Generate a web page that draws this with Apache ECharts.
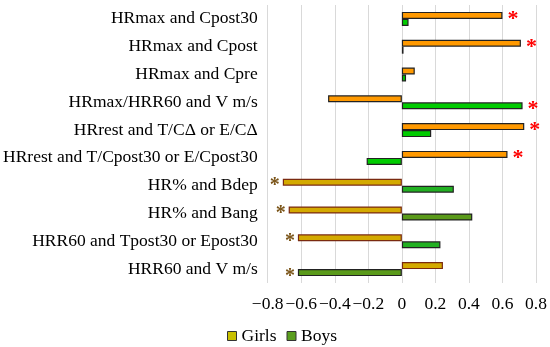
<!DOCTYPE html>
<html>
<head>
<meta charset="utf-8">
<script src="https://cdn.jsdelivr.net/npm/echarts@6/dist/echarts.min.js"></script>
<style>html,body{margin:0;padding:0;background:#fff}#c{width:550px;height:347px}</style>
</head>
<body>
<div id="c"></div>
<script>
const categories = [
  "HRmax and Cpost30",
  "HRmax and Cpost",
  "HRmax and Cpre",
  "HRmax/HRR60 and V m/s",
  "HRrest and T/C\u0394 or E/C\u0394",
  "HRrest and T/Cpost30 or E/Cpost30",
  "HR% and Bdep",
  "HR% and Bang",
  "HRR60 and Tpost30 or Epost30",
  "HRR60 and V m/s"
];
const girls = [0.60, 0.71, 0.077, -0.44, 0.73, 0.63, -0.71, -0.675, -0.62, 0.245];
const boys  = [0.04, 0.01, 0.025, 0.72, 0.175, -0.21, 0.31, 0.42, 0.23, -0.62];
const girlsSig = [true, true, false, false, true, true, true, true, true, false];
const boysSig  = [false, false, false, true, false, false, false, false, false, true];
const tickValues = [-0.8, -0.6, -0.4, -0.2, 0, 0.2, 0.4, 0.6, 0.8];

const FONT = "Liberation Serif";
const girlsTop = "#FF9900", boysTop = "#00CC00";
const girlsBot = "#D4AA00", boysBot = ["#22B022", "#5A9A1A", "#22B022", "#5A9A1A"];

function items(vals, sig, isGirls) {
  return vals.map((v, i) => {
    const bottom = i >= 6;
    const color = isGirls ? (bottom ? girlsBot : girlsTop) : (bottom ? boysBot[i - 6] : boysTop);
    const starColor = bottom ? "#7A5418" : "#FF0000";
    return {
      value: v,
      itemStyle: {
        color: color,
        borderColor: (isGirls && bottom) ? "#7A2A10" : "#222",
        borderWidth: 1.2
      },
      label: {
        show: sig[i],
        position: v >= 0 ? "right" : "left",
        formatter: "*",
        color: starColor,
        fontSize: bottom ? 20 : 22,
        fontFamily: FONT,
        fontWeight: "bold",
        distance: bottom ? 3 : 5,
        offset: [0, 4]
      }
    };
  });
}

const chart = echarts.init(document.getElementById("c"), null, {renderer: "canvas"});
chart.setOption({
  animation: false,
  grid: {left: 266, right: 14, top: 5, bottom: 64, containLabel: false},
  legend: {
    bottom: -3, left: 222,
    itemWidth: 9, itemHeight: 9, itemGap: 10,
    icon: "rect",
    textStyle: {fontFamily: FONT, fontSize: 17.5, color: "#000"},
    data: [
      {name: "Girls", itemStyle: {color: "#C8C000", borderColor: "#333", borderWidth: 1}},
      {name: "Boys", itemStyle: {color: "#5A9E1E", borderColor: "#333", borderWidth: 1}}
    ]
  },
  xAxis: {
    type: "value", min: -0.8, max: 0.8, interval: 0.2,
    axisLine: {show: false}, axisTick: {show: false},
    splitLine: {show: true, lineStyle: {color: "#D9D9D9", width: 1}},
    axisLabel: {
      fontFamily: FONT, fontSize: 17.5, color: "#000", margin: 12,
      formatter: v => {
        const r = Math.round(v * 10) / 10;
        const t = tickValues.find(x => Math.abs(x - r) < 1e-9);
        if (t === undefined) return "";
        if (t === 0) return "0";
        return (t < 0 ? "\u2212" : "") + Math.abs(t).toFixed(1);
      }
    }
  },
  yAxis: {
    type: "category", inverse: true, data: categories,
    axisLine: {show: false}, axisTick: {show: false},
    axisLabel: {fontFamily: FONT, fontSize: 17.5, color: "#000", margin: 10}
  },
  series: [
    {name: "Girls", type: "bar", data: items(girls, girlsSig, true), barWidth: 7, barGap: "0%", itemStyle: {color: "#C8C000"}},
    {name: "Boys", type: "bar", data: items(boys, boysSig, false), barWidth: 7, barGap: "0%", itemStyle: {color: "#5A9E1E"}}
  ]
});
</script>
</body>
</html>
